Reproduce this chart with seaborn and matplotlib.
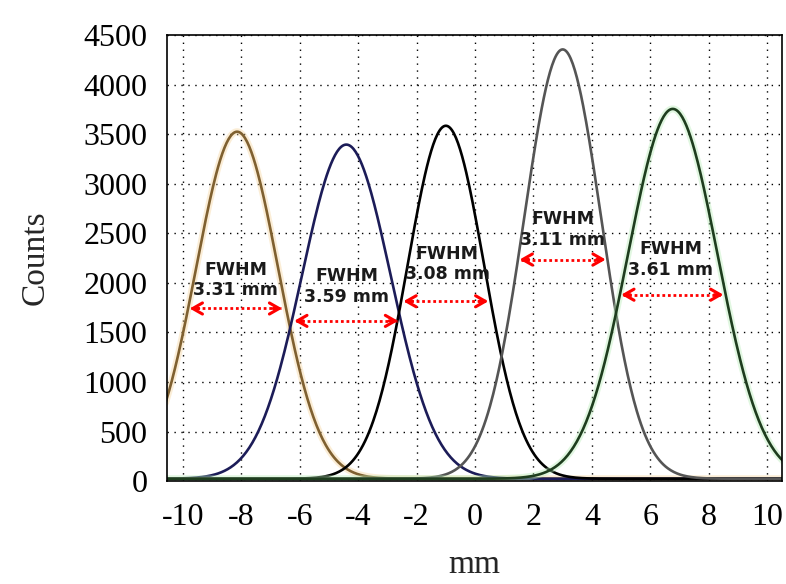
import numpy as np
import pandas as pd
import seaborn as sns
import matplotlib.pyplot as plt

# ------------------------------------------------------------------
# Fitted peaks
# ------------------------------------------------------------------
centers = [-8.15, -4.41, -1.00, 3.00, 6.77]          # mm
heights = [3500, 3370, 3560, 4330, 3730]             # counts above baseline
fwhm = [3.31, 3.59, 3.08, 3.11, 3.61]                # mm
baseline = 25
line_colors = ["#7f6030", "#1c1c58", "#000000", "#555555", "#1e3d1e"]
glow_colors = ["#f5d49a", None, None, None, "#b5ecb5"]

# FWHM arrows: x start, x end, y level, text x, text y
arrow_x0 = [-9.87, -6.29, -2.55, 1.43, 4.91]
arrow_x1 = [-6.51, -2.54, 0.55, 4.57, 8.60]
arrow_y = [1742, 1617, 1815, 2236, 1881]
label_x = [-8.20, -4.40, -0.95, 3.00, 6.70]
label_y = [2030, 1960, 2190, 2535, 2240]

x_ticks = list(range(-10, 11, 2))
y_ticks = list(range(0, 4501, 500))

sns.set_style("white")
plt.rcParams["font.family"] = ["Liberation Serif", "DejaVu Serif"]
plt.rcParams["axes.unicode_minus"] = False

fig = plt.figure(figsize=(7.86, 5.84), dpi=100)
ax = fig.add_axes([0.2125, 0.176, 0.782, 0.764])

xs = np.linspace(-10.6, 10.6, 600)
for c, h, w, lc, gc in zip(centers, heights, fwhm, line_colors, glow_colors):
    sigma = w / (2 * np.sqrt(2 * np.log(2)))
    ys = baseline + h * np.exp(-(xs - c) ** 2 / (2 * sigma ** 2))
    df = pd.DataFrame({"mm": xs, "Counts": ys})
    if gc:
        sns.lineplot(data=df, x="mm", y="Counts", color=gc, lw=5, alpha=0.4, ax=ax)
    sns.lineplot(data=df, x="mm", y="Counts", color=lc, lw=1.9, ax=ax)

head = "->,head_length=0.7,head_width=0.4"
for x0, x1, y, tx, ty, w in zip(arrow_x0, arrow_x1, arrow_y, label_x, label_y, fwhm):
    ax.plot([x0 + 0.15, x1 - 0.15], [y, y], ls=(0, (1, 1)), color="red", lw=2)
    ax.annotate("", xy=(x0, y), xytext=(x0 + 0.5, y),
                arrowprops=dict(arrowstyle=head, color="red", lw=2.2))
    ax.annotate("", xy=(x1, y), xytext=(x1 - 0.5, y),
                arrowprops=dict(arrowstyle=head, color="red", lw=2.2))
    ax.text(tx, ty, f"FWHM\n{w:.2f} mm", ha="center", va="center",
            fontsize=12.5, fontweight="bold", family="DejaVu Sans",
            color="#1a1a1a", linespacing=1.2)

ax.set_xlim(-10.55, 10.5)
ax.set_ylim(0, 4500)
ax.set_xticks(x_ticks)
ax.set_yticks(y_ticks)
ax.grid(True, color="black", ls=(0, (1, 4)), lw=1)
ax.tick_params(direction="in", length=5, labelsize=23, colors="black", width=1)
ax.tick_params(axis="x", pad=16)
ax.tick_params(axis="y", pad=14)
for s in ax.spines.values():
    s.set_color("black")
    s.set_linewidth(1.2)
ax.set_xlabel("mm", fontsize=24, labelpad=12)
ax.set_ylabel("Counts", fontsize=24, labelpad=24)

fig.savefig("out.png", dpi=100)
